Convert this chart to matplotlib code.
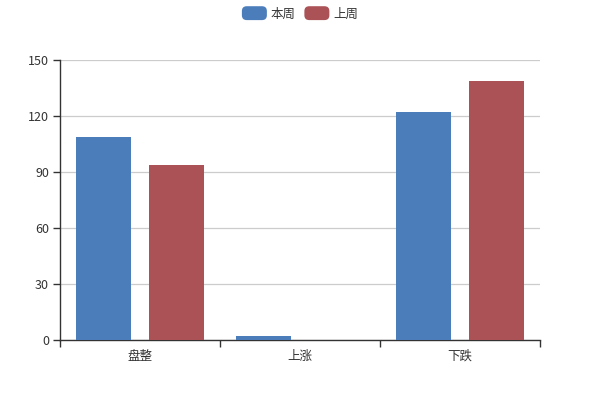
import matplotlib
matplotlib.use("Agg")
import matplotlib.pyplot as plt
import numpy as np
from matplotlib.patches import FancyBboxPatch, Rectangle
from matplotlib.legend_handler import HandlerPatch

plt.rcParams['font.family'] = ['Noto Sans CJK SC', 'DejaVu Sans']

# data
categories = ['盘整', '上涨', '下跌']
this_week = [109, 2, 122]
last_week = [94, 0, 139]
series_names = ['本周', '上周']
colors = ['#4b7dbb', '#ab5257']


class RoundHandler(HandlerPatch):
    def create_artists(self, legend, orig_handle, xdescent, ydescent,
                       width, height, fontsize, trans):
        # fixed 18x10 pt rounded box, centred in the handle area
        cy = -ydescent + height / 2
        p = FancyBboxPatch((-xdescent, cy - 5), 18, 10,
                           boxstyle='round,pad=0,rounding_size=3.5',
                           facecolor=orig_handle.get_facecolor(),
                           edgecolor='none', transform=trans)
        return [p]


fig = plt.figure(figsize=(6, 4), dpi=100)
ax = fig.add_axes([0.1, 0.15, 0.8, 0.7])

x = np.arange(len(categories))
w = 0.345
off = 0.227
b1 = ax.bar(x - off, this_week, w, color=colors[0], label=series_names[0], zorder=3)
b2 = ax.bar(x + off, last_week, w, color=colors[1], label=series_names[1], zorder=3)

ax.set_xlim(-0.5, len(categories) - 0.5)
ax.set_ylim(0, 150)
ax.set_yticks([0, 30, 60, 90, 120, 150])
ax.grid(axis='y', color='#cccccc', linewidth=0.9, zorder=0)

ax.set_xticks(x)
ax.set_xticklabels(categories)
ax.set_xticks(np.arange(-0.5, len(categories), 1), minor=True)
ax.tick_params(axis='x', which='major', length=0, pad=7)
ax.tick_params(axis='x', which='minor', length=5, color='#333333', width=1)
ax.tick_params(axis='y', length=5, color='#333333', width=1, pad=3)
ax.tick_params(labelsize=9, labelcolor='#333333')

for s in ['top', 'right']:
    ax.spines[s].set_visible(False)
for s in ['left', 'bottom']:
    ax.spines[s].set_color('#333333')
    ax.spines[s].set_linewidth(1)

fig.legend(handles=[b1.patches[0], b2.patches[0]], labels=series_names,
           loc='upper center', bbox_to_anchor=(0.5, 1.0),
           ncol=2, frameon=False, fontsize=9, handlelength=2.0, handleheight=0.8,
           handletextpad=0.3, columnspacing=0.7, borderaxespad=0.2,
           labelcolor='#333333', handler_map={Rectangle: RoundHandler()})

fig.savefig('out.png', dpi=100)
